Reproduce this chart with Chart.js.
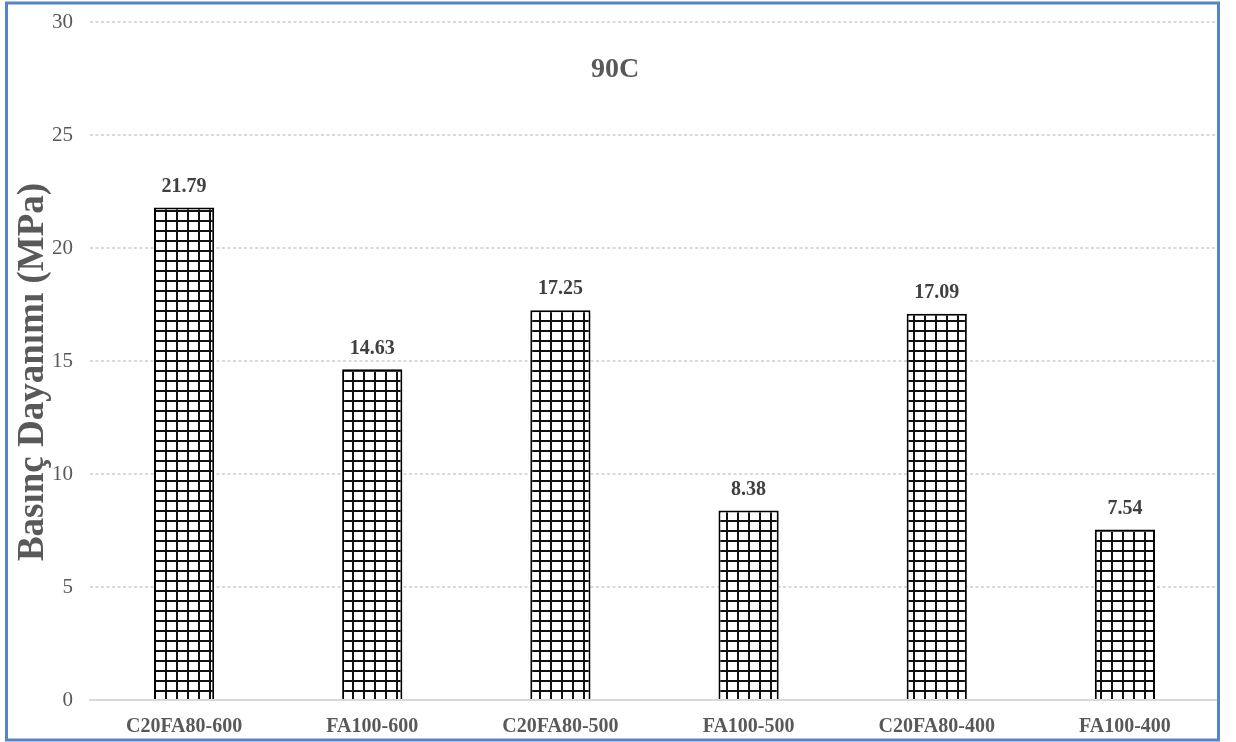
<!DOCTYPE html>
<html>
<head>
<meta charset="utf-8">
<script src="https://cdn.jsdelivr.net/npm/chart.js@4.4.1/dist/chart.umd.min.js"></script>
<style>
  html, body { margin: 0; padding: 0; background: #ffffff; }
  #wrap { width: 1236px; height: 742px; position: relative; }
</style>
</head>
<body>
<div id="wrap"><canvas id="chart" width="1236" height="742"></canvas></div>
<script>
// Compressive strength of the mixes after 90 °C curing
const categories = ['C20FA80-600', 'FA100-600', 'C20FA80-500', 'FA100-500', 'C20FA80-400', 'FA100-400'];
const strengthValues = [21.79, 14.63, 17.25, 8.38, 17.09, 7.54];
const yTicks = [0, 5, 10, 15, 20, 25, 30];
const chartTitle = '90C';
const yAxisTitle = 'Basınç Dayanımı (MPa)';

const SERIF = '"Liberation Serif", "Times New Roman", "DejaVu Serif", serif';

// Small square-grid hatch used to fill the bars
function makeGridPattern() {
  const c = document.createElement('canvas');
  c.width = 11; c.height = 10;
  const g = c.getContext('2d');
  g.fillStyle = '#ffffff';
  g.fillRect(0, 0, 11, 10);
  g.fillStyle = '#111111';
  g.fillRect(0, 0, 2, 10);
  g.fillRect(0, 0, 11, 2);
  return g.createPattern(c, 'repeat');
}

// Blue frame around the whole figure
const framePlugin = {
  id: 'frame',
  afterDraw(chart) {
    const ctx = chart.ctx;
    ctx.save();
    ctx.strokeStyle = '#5585c8';
    ctx.lineWidth = 3;
    ctx.strokeRect(6.5, 3, 1212, 737);
    ctx.restore();
  }
};

// Title written inside the plot area, and the rotated value-axis title
const textPlugin = {
  id: 'texts',
  afterDraw(chart) {
    const ctx = chart.ctx;
    const area = chart.chartArea;
    ctx.save();
    ctx.font = 'bold 28px ' + SERIF;
    ctx.fillStyle = '#595959';
    ctx.textAlign = 'center';
    ctx.textBaseline = 'middle';
    ctx.fillText(chartTitle, chart.width / 2 - 3, area.top + 48);

    ctx.translate(33, (area.top + area.bottom) / 2 + 11);
    ctx.rotate(-Math.PI / 2);
    ctx.font = 'bold 37px ' + SERIF;
    ctx.fillText(yAxisTitle, 0, 0);
    ctx.restore();
  }
};

// Value labels above each bar
const valueLabelPlugin = {
  id: 'valueLabels',
  afterDatasetsDraw(chart) {
    const ctx = chart.ctx;
    const meta = chart.getDatasetMeta(0);
    const data = chart.data.datasets[0].data;
    ctx.save();
    ctx.font = 'bold 20px ' + SERIF;
    ctx.fillStyle = '#404040';
    ctx.textAlign = 'center';
    ctx.textBaseline = 'bottom';
    meta.data.forEach((bar, i) => {
      ctx.fillText(data[i].toFixed(2), bar.x, bar.y - 11);
    });
    ctx.restore();
  }
};

const ctx = document.getElementById('chart').getContext('2d');
new Chart(ctx, {
  type: 'bar',
  data: {
    labels: categories,
    datasets: [{
      data: strengthValues,
      backgroundColor: makeGridPattern(),
      borderColor: '#000000',
      borderWidth: 2,
      borderSkipped: 'bottom',
      categoryPercentage: 1.0,
      barPercentage: 0.32
    }]
  },
  options: {
    responsive: false,
    animation: false,
    devicePixelRatio: 1,
    layout: { padding: { left: 8, right: 17, top: 22, bottom: 3 } },
    plugins: {
      legend: { display: false },
      tooltip: { enabled: false },
      title: { display: false }
    },
    scales: {
      x: {
        grid: { display: false, drawTicks: false },
        border: { display: true, color: '#d9d9d9', width: 2 },
        ticks: {
          color: '#595959',
          padding: 15,
          font: { family: SERIF, size: 20, weight: 'bold' },
          maxRotation: 0
        },
        afterFit(scale) { scale.height = 39; }
      },
      y: {
        min: 0,
        max: 30,
        afterBuildTicks(scale) { scale.ticks = yTicks.map(v => ({ value: v })); },
        grid: {
          drawTicks: false,
          color: c => (c.tick && c.tick.value === 0) ? 'rgba(0,0,0,0)' : '#d9d9d9',
          lineWidth: 2
        },
        border: { display: false, dash: [3, 2.5] },
        ticks: {
          color: '#595959',
          padding: 17,
          font: { family: SERIF, size: 21 }
        },
        title: { display: false },
        afterFit(scale) {
          scale.width = 82;
          scale.paddingTop = 0;
          scale.paddingBottom = 0;
        }
      }
    }
  },
  plugins: [framePlugin, textPlugin, valueLabelPlugin]
});
</script>
</body>
</html>
